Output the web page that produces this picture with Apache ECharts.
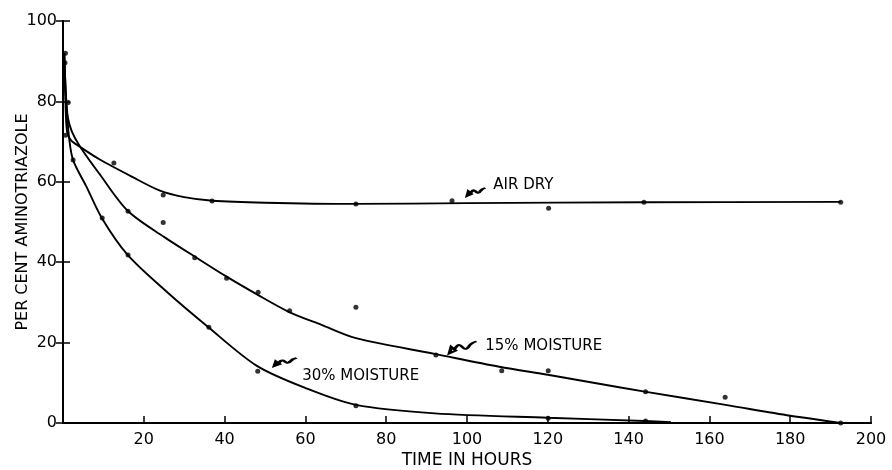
<!DOCTYPE html>
<html>
<head>
<meta charset="utf-8">
<script src="https://cdn.jsdelivr.net/npm/echarts@6/dist/echarts.min.js"></script>
<style>
  html, body { margin: 0; padding: 0; background: #fff; }
  #chart { width: 892px; height: 470px; }
</style>
</head>
<body>
<div id="chart"></div>
<script>
  // measured points (hours, per cent)
  const airDryDots = [[0.6, 92], [0.6, 71.6], [12.6, 64.7], [24.8, 56.7], [36.9, 55.2], [72.5, 54.5], [96.3, 55.3], [120.2, 53.4], [143.8, 54.9], [192.5, 54.9]];
  const moist15Dots = [[0.5, 89.6], [16.1, 52.7], [24.8, 49.9], [32.6, 41.1], [40.5, 36], [48.3, 32.5], [56.1, 27.9], [72.5, 28.8], [92.3, 16.9], [108.6, 13], [120.1, 13], [144.2, 7.8], [163.9, 6.4], [192.5, 0]];
  const moist30Dots = [[1.3, 79.7], [2.5, 65.4], [9.7, 51], [16.1, 41.8], [36.1, 23.8], [48.2, 12.9], [72.5, 4.3], [120.1, 1.2], [144.2, 0.5]];

  // hand drawn fitted curves
  const airDryCurve = [[0.3, 92], [0.6, 80], [1, 72.5], [2, 70.3], [4.2, 68.7], [9, 65.6], [17, 61.3], [24, 57.8], [30, 56.2], [37, 55.3], [50, 54.8], [72, 54.5], [100, 54.7], [144, 54.9], [192.5, 55]];
  const moist15Curve = [[0.3, 92], [0.7, 82], [1.2, 76], [2.2, 72.5], [4.2, 68.8], [9, 62], [16, 52.8], [25, 46.3], [32.6, 41.4], [40.5, 36.4], [48, 32], [56, 27.6], [64, 24.4], [72.5, 21.1], [92, 17.2], [108, 14], [120, 12], [132, 9.9], [144, 7.8], [164, 4.5], [180, 1.8], [192.5, 0]];
  const moist30Curve = [[0.3, 92], [0.8, 80], [1.5, 71], [2.5, 65.4], [5.8, 58.8], [9.6, 51], [16, 41.8], [25.6, 32.7], [36, 23.8], [48, 14.2], [60, 8.7], [72.5, 4.5], [92, 2.4], [120, 1.3], [144, 0.5], [150.5, 0.2]];

  const seriesNames = ['AIR DRY', '15% MOISTURE', '30% MOISTURE'];

  const font = 'DejaVu Sans';
  const squiggle = 'path://M0,14 L2,7 L7,11 Z M5,10 C8,6 10,3 13,6 C16,9 18,11 21,7 C23,4 26,2 30,1';

  let myChart = echarts.init(document.getElementById('chart'));

  function curve(name, data, note) {
    return {
      name: name,
      type: 'line',
      data: data,
      smooth: 0.3,
      showSymbol: false,
      silent: true,
      lineStyle: {color: '#000', width: 1.9},
      markPoint: {
        silent: true,
        data: [
          {
            coord: note.arrow,
            symbol: squiggle,
            symbolSize: note.arrowSize,
            symbolKeepAspect: false,
            itemStyle: {color: 'rgba(0,0,0,0)', borderColor: '#000', borderWidth: 2.4},
            label: {show: false}
          },
          {
            coord: note.text,
            symbol: 'circle',
            symbolSize: 1,
            itemStyle: {color: 'rgba(0,0,0,0)'},
            label: {
              show: true,
              position: 'right',
              distance: 0,
              formatter: name,
              color: '#000',
              fontFamily: font,
              fontSize: 15
            }
          }
        ]
      }
    };
  }

  function dots(name, data) {
    return {
      name: name + ' points',
      type: 'scatter',
      data: data,
      symbolSize: 5,
      clip: false,
      silent: true,
      itemStyle: {color: '#000'}
    };
  }

  let option = {
    backgroundColor: '#fff',
    animation: false,
    grid: {left: 63, right: 21, top: 21, bottom: 47, outerBoundsMode: 'none'},
    xAxis: [
      {
        type: 'value',
        min: 0,
        max: 200,
        interval: 20,
        name: 'TIME IN HOURS',
        nameLocation: 'middle',
        nameGap: 29,
        nameMoveOverlap: false,
        nameTextStyle: {color: '#000', fontFamily: font, fontSize: 17},
        axisLine: {lineStyle: {color: '#000', width: 2}},
        axisTick: {inside: true, length: 7, lineStyle: {color: '#000', width: 1.5}},
        axisLabel: {showMinLabel: false, color: '#000', fontFamily: font, fontSize: 16, margin: 9},
        splitLine: {show: false}
      },
      {
        type: 'value',
        position: 'top',
        min: 0,
        max: 200,
        interval: 20,
        axisLine: {show: true, lineStyle: {color: '#000', width: 2}},
        axisTick: {show: false},
        axisLabel: {show: false},
        splitLine: {show: false}
      }
    ],
    yAxis: [
      {
        type: 'value',
        min: 0,
        max: 100,
        interval: 20,
        name: 'PER CENT AMINOTRIAZOLE',
        nameLocation: 'middle',
        nameGap: 32,
        nameMoveOverlap: false,
        nameTextStyle: {color: '#000', fontFamily: font, fontSize: 16},
        axisLine: {show: true, lineStyle: {color: '#000', width: 2}},
        axisTick: {inside: true, length: 7, lineStyle: {color: '#000', width: 1.5}},
        axisLabel: {color: '#000', fontFamily: font, fontSize: 16, margin: 6},
        splitLine: {show: false}
      },
      {
        type: 'value',
        position: 'right',
        min: 0,
        max: 100,
        interval: 20,
        axisLine: {show: true, lineStyle: {color: '#000', width: 2}},
        axisTick: {show: true, inside: true, length: 7, lineStyle: {color: '#000', width: 1.5}},
        axisLabel: {show: false},
        splitLine: {show: false}
      }
    ],
    series: [
      curve(seriesNames[0], airDryCurve, {arrow: [102.3, 57.5], arrowSize: [18, 8], text: [106.4, 59.2]}),
      curve(seriesNames[1], moist15Curve, {arrow: [99, 18.8], arrowSize: [27, 12], text: [104.4, 19.2]}),
      curve(seriesNames[2], moist30Curve, {arrow: [55.1, 15.2], arrowSize: [22, 8], text: [59.1, 11.7]}),
      dots(seriesNames[0], airDryDots),
      dots(seriesNames[1], moist15Dots),
      dots(seriesNames[2], moist30Dots)
    ]
  };
  myChart.setOption(option);
</script>
</body>
</html>
